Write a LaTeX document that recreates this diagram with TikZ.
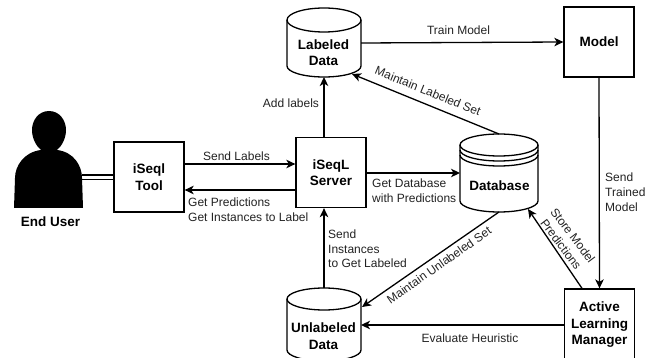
\documentclass[tikz,border=0pt]{standalone}
\usepackage{fontspec}
\setmainfont{Liberation Sans}
\usetikzlibrary{arrows.meta,shapes.geometric}
\definecolor{ink}{HTML}{000000}
\definecolor{lbl}{HTML}{222222}
\tikzset{
  x=1pt,y=-1pt,
  boxn/.style={draw=ink,line width=1.3pt,minimum width=70pt,minimum height=70pt,align=center,font=\fontsize{13.5}{16.5}\selectfont\bfseries,inner sep=0pt},
  link/.style={draw=ink,line width=1.3pt,-{Stealth[length=9pt,width=8.5pt,inset=2.5pt]}},
  lab/.style={font=\fontsize{12}{14.7}\selectfont,text=lbl,align=left,inner sep=0pt},
  bold/.style={font=\fontsize{13.5}{16.5}\selectfont\bfseries,align=center,inner sep=0pt},
  cyl/.style={draw=ink,line width=1.3pt,fill=white},
}
\begin{document}
\begin{tikzpicture}
\useasboundingbox (0,0) rectangle (656,358);
% person
\fill[ink] (49,111) .. controls (60,111) and (66,121) .. (66,130) .. controls (66,138) and (62,146) .. (57,150) .. controls (74,152) and (82,166) .. (82,178) -- (83,208) -- (14,208) -- (15,178) .. controls (15,166) and (24,152) .. (41,150) .. controls (36,146) and (32,138) .. (32,130) .. controls (32,121) and (38,111) .. (49,111) -- cycle;
\coordinate (userR) at (82,177);
\node[bold] (user) at (50.5,222) {End User};
\node[boxn] (tool) at (149,177) {iSeql\\Tool};
\node[boxn] (server) at (331,172.5) {iSeqL\\Server};
\node[boxn] (model) at (599,42) {Model};
\node[boxn,minimum height=72pt] (alm) at (599.5,325) {Active\\Learning\\Manager};
% labeled cylinder
\path[cyl] (287,20) arc[x radius=37,y radius=12,start angle=180,end angle=360] -- (361,66) arc[x radius=37,y radius=11,start angle=0,end angle=180] -- cycle;
\draw[cyl,fill=none] (287,20) arc[x radius=37,y radius=12,start angle=180,end angle=0];
\node[bold] (labeled) at (323.5,52.5) {Labeled\\Data};
% database cylinder
\path[cyl] (460,145) arc[x radius=39,y radius=11,start angle=180,end angle=360] -- (538,201) arc[x radius=39,y radius=11,start angle=0,end angle=180] -- cycle;
\draw[cyl,fill=none] (460,145) arc[x radius=39,y radius=11,start angle=180,end angle=0];
\draw[cyl,fill=none] (460,150) arc[x radius=39,y radius=11,start angle=180,end angle=0];
\draw[cyl,fill=none] (460,155) arc[x radius=39,y radius=11,start angle=180,end angle=0];
\node[bold] (database) at (499.5,186) {Database};
% unlabeled cylinder
\path[cyl] (287,299) arc[x radius=37,y radius=11,start angle=180,end angle=360] -- (361,350) arc[x radius=37,y radius=11,start angle=0,end angle=180] -- cycle;
\draw[cyl,fill=none] (287,299) arc[x radius=37,y radius=11,start angle=180,end angle=0];
\node[bold] (unlabeled) at (323.5,336) {Unlabeled\\Data};
% anchors
\coordinate (lbB) at (324,77);
\coordinate (lbR) at (361,43);
\coordinate (lbBR) at (352,74);
\coordinate (dbT) at (499,134);
\coordinate (dbL) at (460,173);
\coordinate (dbB) at (499,212);
\coordinate (dbBR) at (528,209);
\coordinate (ulT) at (324,288);
\coordinate (ulR) at (361,325);
\coordinate (ulTR) at (362,307);
% connectors
\draw[link] (lbR) -- (model.west);
\draw[link] (server.north -| lbB) -- (lbB);
\draw[link] (dbT) -- (lbBR);
\draw[link] (tool.east |- 0,164) -- (server.west |- 0,164);
\draw[link] (server.west |- 0,190) -- (tool.east |- 0,190);
\draw[link] (server.east |- 0,173) -- (dbL);
\draw[link] (model.south) -- (alm.north);
\draw[link] (ulT) -- (server.south -| ulT);
\draw[link] (dbB) -- (ulTR);
\draw[link] (alm.west |- ulR) -- (ulR);
\draw[link] (alm.north -| 582,0) -- (dbBR);
\draw[ink,line width=1.2pt] (userR |- 0,175) -- (tool.west |- 0,175);
\draw[ink,line width=1.2pt] (userR |- 0,179.5) -- (tool.west |- 0,179.5);
% labels
\node[lab] at (458.5,30) {Train Model};
\node[lab] at (291,103.5) {Add labels};
\node[lab,rotate=-22] at (428,91) {Maintain Labeled Set};
\node[lab] at (236.5,156) {Send Labels};
\node[lab,anchor=north west] at (188,198) {Get Predictions\\Get Instances to Label};
\node[lab,anchor=north west] at (372,178.5) {Get Database\\with Predictions};
\node[lab,anchor=north west] at (605,173) {Send\\Trained\\Model};
\node[lab,anchor=north west] at (328,229.5) {Send\\Instances\\to Get Labeled};
\node[lab,rotate=35] at (439,265) {Maintain Unlabeled Set};
\node[lab,rotate=-53,align=center] at (567,240) {Store Model\\Predictions};
\node[lab] at (470,338) {Evaluate Heuristic};
\end{tikzpicture}
\end{document}
